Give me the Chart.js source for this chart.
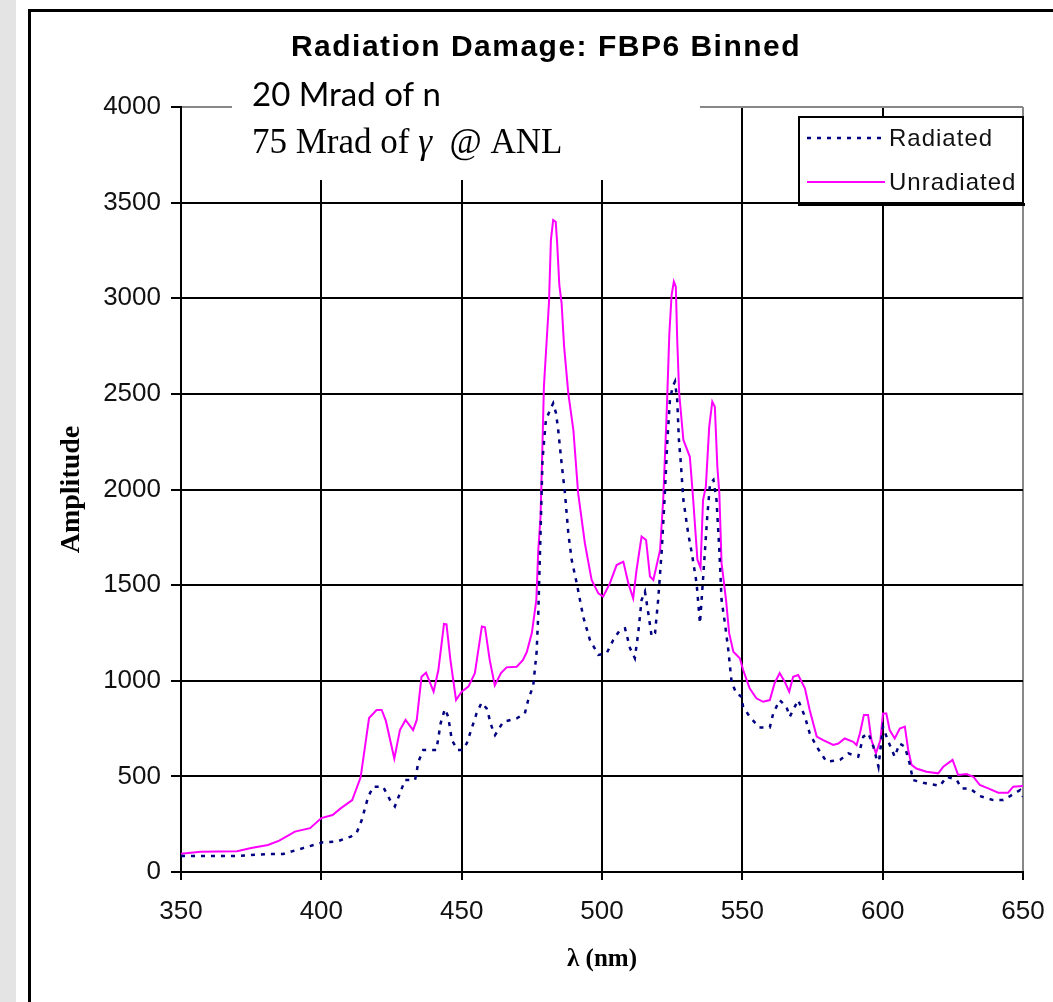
<!DOCTYPE html>
<html>
<head>
<meta charset="utf-8">
<title>Radiation Damage: FBP6 Binned</title>
<script src="https://cdn.jsdelivr.net/npm/chart.js@4.4.0/dist/chart.umd.min.js"></script>
<style>
  html, body { margin: 0; padding: 0; background: #fff; }
  canvas { display: block; }
</style>
</head>
<body>
<canvas id="grafico" width="1053" height="1002"></canvas>
<script>
// espectro binado, comprimento de onda (nm) x amplitude
const radiatedNm = [
  350, 357, 370, 380.5, 386.4, 393.5, 400.6, 405.5, 410.5, 412.6, 414.4, 416.7, 418.5, 422, 424.5,
  426.2, 428, 429.8, 433.4, 434.6, 436.3, 441, 442.5, 444, 445.2, 446.5, 448.5, 450, 451.8, 455.3,
  457.1, 458.9, 460.7, 461.9, 464.8, 469.6, 472.5, 473.7, 475.5, 476.7, 477.3, 477.6, 478.1, 478.8,
  480, 481.5, 482.6, 483.6, 484.4, 485.6, 486.8, 488, 489.2, 491, 493.3, 495.7, 498.7, 501.7, 504,
  506.4, 508.2, 510, 511.7, 512.9, 514.1, 515.3, 516.5, 517.7, 518.9, 520, 521.3, 522.4, 523.3,
  524.2, 525.2, 526, 526.8, 527.4, 528, 529, 530.7, 532, 533.7, 534.9, 535.9, 536.7, 537.5, 538.5,
  539.7, 540.8, 541.8, 542.6, 543.8, 545, 546.2, 548, 549.5, 550.3, 552.6, 556, 559.8, 561, 563.3,
  565.7, 566.9, 569.9, 572.3, 574, 576.5, 580, 584.8, 587.8, 591.3, 593.1, 594.9, 596.7, 598.5,
  600.1, 601.8, 604.3, 606, 607.9, 609.6, 610.8, 614.4, 620.4, 622.8, 626.4, 628.1, 631.1, 634.6,
  639.4, 643, 645.4, 649, 650
];
const radiatedAmp = [
  84, 84, 84, 94, 94, 125, 155, 159, 185, 205, 272, 394, 446, 446, 376,
  343, 411, 481, 481, 577, 638, 638, 777, 852, 812, 690, 638, 638, 672, 829,
  885, 855, 760, 716, 785, 803, 829, 899, 975, 1150, 1350, 1510, 1771, 2154,
  2363, 2416, 2451, 2400, 2311, 2137, 1981, 1771, 1632, 1510, 1335, 1213, 1135, 1145, 1213,
  1265, 1274, 1170, 1118, 1249, 1422, 1466, 1353, 1231, 1249, 1422, 1684, 1981, 2259,
  2468, 2538, 2564, 2468, 2259, 2154, 1945, 1771, 1667, 1510, 1300, 1510, 1684, 1858, 2032,
  2050, 1945, 1684, 1422, 1300, 1161, 990, 930, 920, 864, 812, 756, 756, 829, 899,
  864, 812, 899, 812, 725, 655, 577, 586, 620, 603, 708, 725, 655, 551,
  760, 690, 603, 672, 655, 568, 481, 467, 450, 498, 481, 437, 437, 397,
  376, 376, 397, 429, 393
];

const unradiatedNm = [
  350, 357, 370, 375, 381, 385, 390.6, 396, 400, 404, 407, 411, 414, 417, 419.7, 421.5, 423, 426,
  428, 430, 432.7, 434, 435.7, 437.3, 440, 441.7, 443.7, 444.6, 446, 448, 450, 452.4, 454.7, 457.2,
  458.3, 460, 461.8, 464, 466, 469.6, 471.8, 473.2, 475, 476.6, 477.3, 478.1, 478.8, 479.3, 480.3,
  481.1, 481.8, 482.6, 483.5, 484, 484.8, 485.6, 486.5, 488, 489.8, 491.5, 493.9, 496.3, 498.7,
  500.4, 502.8, 505.2, 507.6, 509.4, 511.1, 512.3, 514.1, 515.7, 517.1, 518.3, 520.7, 521.8, 523,
  524, 524.8, 525.6, 526.3, 526.8, 527.5, 529, 531.3, 532.5, 534, 535.1, 536, 537, 538.2, 539.3,
  540.2, 541.1, 541.8, 542.6, 544.2, 545.3, 546.8, 549.1, 550.3, 552.6, 555, 557.4, 559.8, 561.5,
  563.3, 565.1, 566.7, 568.1, 569.9, 572.3, 574, 576.5, 578.8, 582.4, 584.2, 586.5, 589.5, 590.7,
  591.9, 593.3, 594.8, 596, 597.6, 599.2, 600.1, 601.3, 602.5, 604.3, 606.1, 607.9, 609.1, 610.3,
  612, 615.6, 619.8, 621.6, 624.9, 626.9, 629.9, 632.3, 634.6, 637.6, 641.2, 644.7, 646.5, 650
];
const unradiatedAmp = [
  95, 106, 108, 125, 141, 164, 211, 229, 282, 298, 334, 376, 495, 805, 847, 847, 790, 593,
  742, 795, 742, 795, 1021, 1042, 943, 1056, 1297, 1295, 1108, 899, 943, 969, 1040, 1284,
  1280, 1108, 975, 1040, 1070, 1073, 1108, 1150, 1249, 1422, 1684, 1858, 2242, 2538, 2782,
  2975, 3305, 3409, 3400, 3295, 3069, 2975, 2747, 2503, 2311, 1981, 1719, 1527, 1457,
  1440, 1509, 1605, 1623, 1509, 1431, 1579, 1754, 1736, 1545, 1527, 1684, 1945, 2381,
  2817, 3017, 3087, 3060, 2782, 2503, 2259, 2171, 1945, 1632, 1590, 1945, 2015, 2328, 2459,
  2433, 2119, 1981, 1615, 1422, 1249, 1152, 1118, 1056, 960, 908, 890, 899, 987,
  1040, 995, 943, 1021, 1030, 960, 847, 708, 690, 664, 672, 698, 681, 664,
  726, 821, 821, 690, 620, 690, 829, 829, 742, 698, 750, 760, 638, 560,
  541, 524, 516, 551, 586, 507, 512, 498, 455, 437, 415, 415, 446, 450
];

const seriesLabels = ['Radiated', 'Unradiated'];
const xTicks = [350, 400, 450, 500, 550, 600, 650];
const yTicks = [0, 500, 1000, 1500, 2000, 2500, 3000, 3500, 4000];

const titulo = 'Radiation Damage: FBP6 Binned';
const notaLinha1 = '20 Mrad of n';
const notaLinha2 = ['75 Mrad of ', 'γ', '  @ ANL'];

function pontos(xs, ys) {
  return xs.map((x, i) => ({ x: x, y: ys[i] }));
}

// fundo cinza a esquerda e moldura preta
const moldura = {
  id: 'moldura',
  beforeDraw(chart) {
    const ctx = chart.ctx;
    ctx.save();
    ctx.fillStyle = '#fff';
    ctx.fillRect(0, 0, chart.width, chart.height);
    ctx.fillStyle = '#e4e4e4';
    ctx.fillRect(0, 0, 16, chart.height);
    ctx.fillStyle = '#000';
    ctx.fillRect(28, 9, 3, chart.height - 9);
    ctx.fillRect(28, 9, chart.width - 28, 3);
    ctx.restore();
  }
};

// titulo, caixa de anotacao e legenda
const textos = {
  id: 'textos',
  afterDraw(chart) {
    const ctx = chart.ctx;
    ctx.save();

    ctx.fillStyle = '#000';
    ctx.textBaseline = 'alphabetic';
    ctx.textAlign = 'center';
    ctx.font = 'bold 30px "Liberation Sans", Arial, sans-serif';
    ctx.letterSpacing = '1.5px';
    ctx.fillText(titulo, 546, 56);
    ctx.letterSpacing = '0px';

    ctx.fillStyle = '#fff';
    ctx.fillRect(232, 84, 468, 96);
    ctx.fillStyle = '#000';
    ctx.textAlign = 'left';
    ctx.font = '33px Lato, "Open Sans", sans-serif';
    ctx.fillText(notaLinha1, 252, 106);

    let x = 252;
    const fontes = ['35px "Liberation Serif", serif', 'italic 35px "Liberation Serif", serif', '35px "Liberation Serif", serif'];
    notaLinha2.forEach((parte, i) => {
      ctx.font = fontes[i];
      ctx.fillText(parte, x, 153);
      x += ctx.measureText(parte).width;
    });

    // legenda
    const lx = 798, ly = 116, lw = 226, lh = 88;
    ctx.fillStyle = '#fff';
    ctx.fillRect(lx, ly, lw, lh);
    ctx.strokeStyle = '#000';
    ctx.lineWidth = 2;
    ctx.strokeRect(lx + 1, ly + 1, lw - 2, lh - 2);
    ctx.fillStyle = '#000';
    ctx.fillRect(lx, ly + lh - 1, lw + 1, 3);

    ctx.font = '24px "Liberation Sans", Arial, sans-serif';
    ctx.letterSpacing = '1px';
    ctx.textBaseline = 'middle';
    const linhasY = [138, 182];
    chart.data.datasets.forEach((ds, i) => {
      const y = linhasY[i];
      ctx.save();
      ctx.strokeStyle = ds.borderColor;
      ctx.lineWidth = ds.borderWidth;
      ctx.setLineDash(ds.borderDash || []);
      ctx.beginPath();
      ctx.moveTo(807, y);
      ctx.lineTo(885, y);
      ctx.stroke();
      ctx.restore();
      ctx.fillStyle = '#111';
      ctx.fillText(ds.label, 889, y + 1);
    });
    ctx.restore();
  }
};

const fonteTicks = { family: '"Liberation Sans", Arial, sans-serif', size: 26 };

const grafico = new Chart(document.getElementById('grafico'), {
  type: 'line',
  data: {
    datasets: [
      {
        label: seriesLabels[0],
        data: pontos(radiatedNm, radiatedAmp),
        borderColor: '#000080',
        borderWidth: 2.5,
        borderDash: [4, 6],
        pointRadius: 0,
        tension: 0,
        fill: false
      },
      {
        label: seriesLabels[1],
        data: pontos(unradiatedNm, unradiatedAmp),
        borderColor: '#ff00ff',
        borderWidth: 2,
        pointRadius: 0,
        tension: 0,
        fill: false
      }
    ]
  },
  options: {
    responsive: false,
    animation: false,
    devicePixelRatio: 1,
    layout: { padding: { left: 0, top: 107, right: 30, bottom: 0 } },
    plugins: {
      legend: { display: false },
      tooltip: { enabled: false },
      title: { display: false }
    },
    scales: {
      x: {
        type: 'linear',
        min: 350,
        max: 650,
        afterBuildTicks: s => { s.ticks = xTicks.map(v => ({ value: v })); },
        afterFit: s => { s.height = 130; s.paddingLeft = 0; s.paddingRight = 0; },
        ticks: { font: fonteTicks, color: '#111', padding: 16, maxRotation: 0, callback: v => String(v) },
        grid: {
          color: c => (c.tick && c.tick.value === 650 ? '#888' : '#000'),
          lineWidth: 2,
          tickLength: 8,
          tickColor: '#000'
        },
        border: { display: true, color: '#000', width: 2 },
        title: {
          display: true,
          text: 'λ (nm)',
          color: '#000',
          font: { family: '"Liberation Serif", serif', weight: 'bold', size: 25 },
          padding: { top: 0, bottom: 27 }
        }
      },
      y: {
        min: 0,
        max: 4000,
        afterBuildTicks: s => { s.ticks = yTicks.map(v => ({ value: v })); },
        afterFit: s => { s.width = 181; },
        ticks: { font: fonteTicks, color: '#111', padding: 10, callback: v => String(v) },
        grid: {
          color: c => (c.tick && c.tick.value === 4000 ? '#888' : '#000'),
          lineWidth: 2,
          tickLength: 10,
          tickColor: '#000'
        },
        border: { display: true, color: '#000', width: 2 },
        title: {
          display: true,
          text: 'Amplitude',
          color: '#000',
          font: { family: '"Liberation Serif", serif', weight: 'bold', size: 28 },
          padding: { top: 55, bottom: 0 }
        }
      }
    }
  },
  plugins: [moldura, textos]
});
</script>
</body>
</html>
